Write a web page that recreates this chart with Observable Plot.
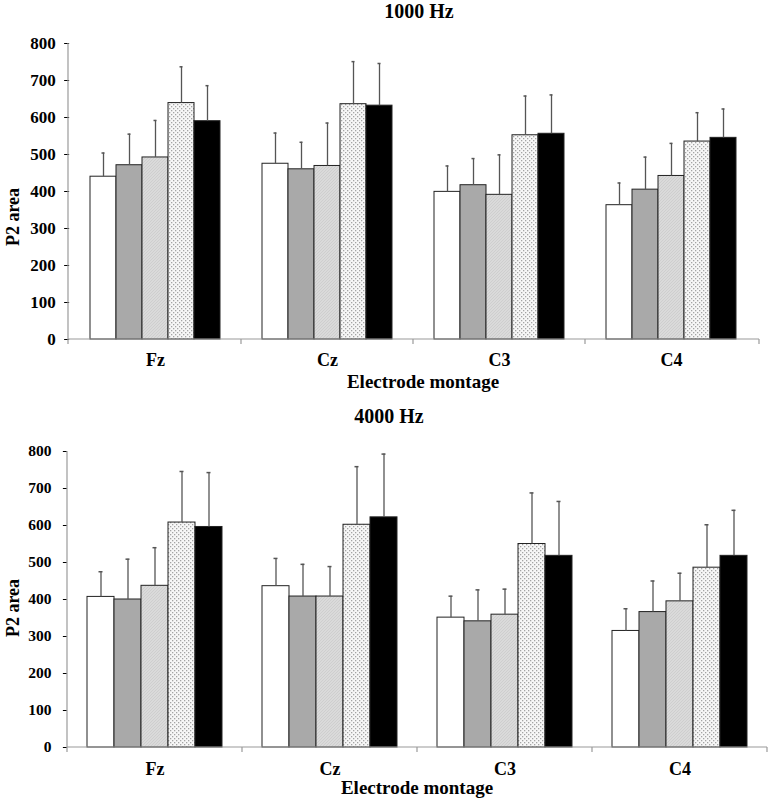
<!DOCTYPE html>
<html><head><meta charset="utf-8">
<script src="https://cdn.jsdelivr.net/npm/d3@7"></script>
<script src="https://cdn.jsdelivr.net/npm/@observablehq/plot@0.6"></script>
<style>
body{margin:0;background:#fff;}
#wrap{position:relative;width:768px;height:800px;overflow:hidden;font-family:"Liberation Serif","Times New Roman",serif;font-weight:bold;color:#000;}
.t{position:absolute;white-space:nowrap;line-height:1;transform:translate(-50%,-50%);}
.panel{position:absolute;left:0;}
.panel svg [aria-label="y-axis tick"]{stroke:#9a9a9a;}
</style></head><body><div id="wrap"></div>
<script>
// ---- data ----
const electrodes = ["Fz", "Cz", "C3", "C4"];
const conditions = ["Condition 1", "Condition 2", "Condition 3", "Condition 4", "Condition 5"];
const yTicks = [0, 100, 200, 300, 400, 500, 600, 700, 800];

// 1000 Hz: mean P2 area per condition (rows) and electrode (columns)
const mean1000_c1 = [440, 475, 399, 363];
const mean1000_c2 = [471, 460, 417, 405];
const mean1000_c3 = [492, 469, 391, 442];
const mean1000_c4 = [639, 636, 552, 535];
const mean1000_c5 = [590, 632, 556, 545];
// 1000 Hz: top of error bar (mean + SD)
const upper1000_c1 = [504, 558, 469, 423];
const upper1000_c2 = [555, 533, 489, 493];
const upper1000_c3 = [592, 585, 499, 530];
const upper1000_c4 = [737, 751, 658, 613];
const upper1000_c5 = [686, 746, 661, 623];

// 4000 Hz
const mean4000_c1 = [407, 436, 351, 315];
const mean4000_c2 = [400, 408, 341, 366];
const mean4000_c3 = [437, 408, 359, 395];
const mean4000_c4 = [608, 602, 550, 486];
const mean4000_c5 = [596, 622, 518, 518];
const upper4000_c1 = [475, 511, 409, 375];
const upper4000_c2 = [509, 495, 426, 450];
const upper4000_c3 = [540, 489, 428, 471];
const upper4000_c4 = [746, 759, 688, 602];
const upper4000_c5 = [743, 793, 665, 641];

const wrap = document.getElementById("wrap");

function addText(txt, x, y, size, rotate) {
  const d = document.createElement("div");
  d.className = "t";
  d.textContent = txt;
  d.style.left = x + "px";
  d.style.top = y + "px";
  d.style.fontSize = size + "px";
  if (rotate) d.style.transform = "translate(-50%,-50%) rotate(-90deg)";
  wrap.appendChild(d);
}

function addPatterns(svgNode, prefix) {
  const svg = d3.select(svgNode);
  const defs = svg.insert("defs", ":first-child");
  const h = defs.append("pattern").attr("id", prefix + "hatch").attr("patternUnits", "userSpaceOnUse")
    .attr("width", 3).attr("height", 3);
  h.append("rect").attr("width", 3).attr("height", 3).attr("fill", "#dadada");
  h.append("path").attr("d", "M0,3 L3,0 M-1,1 L1,-1 M2,4 L4,2").attr("stroke", "#c8c8c8").attr("stroke-width", 0.7);
  const p = defs.append("pattern").attr("id", prefix + "dots").attr("patternUnits", "userSpaceOnUse")
    .attr("width", 4).attr("height", 4);
  p.append("rect").attr("width", 4).attr("height", 4).attr("fill", "#f7f7f7");
  p.append("rect").attr("x", 0).attr("y", 0).attr("width", 1.3).attr("height", 1.3).attr("fill", "#a4a4a4");
  p.append("rect").attr("x", 2).attr("y", 2).attr("width", 1.3).attr("height", 1.3).attr("fill", "#a4a4a4");
}

function panel(cfg) {
  const rows = [];
  electrodes.forEach((e, i) => conditions.forEach((c, j) => {
    rows.push({electrode: e, condition: c, value: cfg.means[j][i], upper: cfg.uppers[j][i]});
  }));
  const fills = ["#ffffff", "#a9a9a9", `url(#${cfg.prefix}hatch)`, `url(#${cfg.prefix}dots)`, "#000000"];
  const paddingOuter = 0.115, paddingInner = 0.23;
  const plotW = 768 - cfg.marginLeft - cfg.marginRight;
  const step = plotW / (electrodes.length - paddingInner + 2 * paddingOuter);
  const outerGap = step * paddingOuter; // y axis sits at the plot edge, left of the first group
  const chart = Plot.plot({
    width: 768,
    height: cfg.height,
    marginTop: cfg.marginTop,
    marginBottom: cfg.marginBottom,
    marginLeft: cfg.marginLeft,
    marginRight: cfg.marginRight,
    style: {fontFamily: '"Liberation Serif","Times New Roman",serif', fontWeight: "bold", background: "white", color: "black", overflow: "visible"},
    fx: {domain: electrodes, paddingInner, paddingOuter, label: null},
    x: {domain: conditions, padding: 0, axis: null},
    y: {domain: [0, 800], label: null},
    color: {type: "ordinal", domain: conditions, range: fills},
    marks: [
      Plot.axisY({ticks: yTicks, tickSize: cfg.tickSize, tickPadding: cfg.tickPadding, fontSize: cfg.yFont, label: null, dx: -outerGap}),
      Plot.axisFx({anchor: "bottom", tickSize: 0, tickPadding: cfg.fxPadding, fontSize: cfg.fxFont, label: null}),
      Plot.barY(rows, {fx: "electrode", x: "condition", y: "value", fill: "condition", stroke: "#222", strokeWidth: 1}),
      Plot.ruleX(rows, {fx: "electrode", x: "condition", y1: "value", y2: "upper", stroke: "#555", strokeWidth: 1.3}),
      Plot.tickY(rows, {fx: "electrode", x: "condition", y: "upper", stroke: "#555", strokeWidth: 1.5, insetLeft: 11.5, insetRight: 11.5})
    ]
  });
  addPatterns(chart, cfg.prefix);

  // axis lines (baseline with group-boundary ticks, and vertical y axis line)
  const svg = d3.select(chart);
  const y = chart.scale("y");
  const fx = chart.scale("fx");
  const y0 = y.apply(0), y8 = y.apply(800);
  const left = cfg.marginLeft, right = 768 - cfg.marginRight;
  const starts = electrodes.map(e => fx.apply(e));
  const bw = fx.bandwidth;
  const bounds = [left];
  for (let i = 0; i < starts.length - 1; i++) bounds.push((starts[i] + bw + starts[i + 1]) / 2);
  bounds.push(right);
  const g = svg.append("g").attr("stroke", "#9a9a9a").attr("stroke-width", 1.2);
  g.append("line").attr("x1", left).attr("x2", right).attr("y1", y0).attr("y2", y0);
  g.append("line").attr("x1", left).attr("x2", left).attr("y1", y0).attr("y2", y8);
  bounds.forEach(b => g.append("line").attr("x1", b).attr("x2", b).attr("y1", y0).attr("y2", y0 + 5));

  const div = document.createElement("div");
  div.className = "panel";
  div.style.top = cfg.top + "px";
  div.appendChild(chart);
  wrap.appendChild(div);
}

panel({
  prefix: "a", top: 0, height: 392, marginTop: 43, marginBottom: 53, marginLeft: 68, marginRight: 9,
  means: [mean1000_c1, mean1000_c2, mean1000_c3, mean1000_c4, mean1000_c5],
  uppers: [upper1000_c1, upper1000_c2, upper1000_c3, upper1000_c4, upper1000_c5],
  yFont: 17, tickSize: 5, tickPadding: 9, fxFont: 18, fxPadding: 14
});
panel({
  prefix: "b", top: 400, height: 400, marginTop: 51, marginBottom: 53, marginLeft: 67, marginRight: 1,
  means: [mean4000_c1, mean4000_c2, mean4000_c3, mean4000_c4, mean4000_c5],
  uppers: [upper4000_c1, upper4000_c2, upper4000_c3, upper4000_c4, upper4000_c5],
  yFont: 15.5, tickSize: 4, tickPadding: 12, fxFont: 18, fxPadding: 15
});

addText("1000 Hz", 419, 11, 20);
addText("Electrode montage", 423, 381, 19);
addText("P2 area", 13, 217, 18, true);
addText("4000 Hz", 389, 416, 20);
addText("Electrode montage", 417, 787, 19);
addText("P2 area", 13, 608, 18, true);
</script>
</body></html>
